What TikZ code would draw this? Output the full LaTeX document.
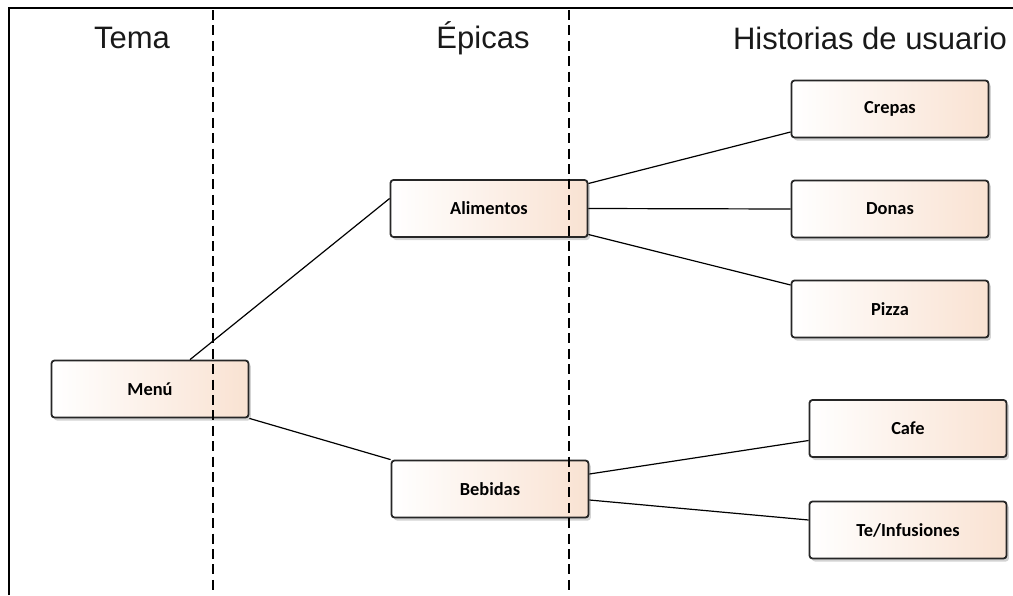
\documentclass[tikz,border=0pt]{standalone}
\usepackage{fontspec}
\setmainfont{Liberation Sans}
\newfontfamily\boxfont{Carlito}
\usetikzlibrary{shadows,calc}
\definecolor{peach}{HTML}{F9E2D2}
\begin{document}
\begin{tikzpicture}[x=0.5pt,y=-0.5pt,
  storybox/.style={draw=black!85, line width=0.9pt, rounded corners=1.5pt,
    left color=white, right color=peach,
    minimum width=98.5pt, minimum height=28.5pt, inner sep=0pt,
    font=\boxfont\bfseries\fontsize{9.2}{11}\selectfont,
    drop shadow={shadow xshift=1.2pt, shadow yshift=-1.5pt, opacity=0.35, fill=black!50}},
  link/.style={draw=black, line width=0.6pt},
  lane/.style={draw=black, line width=1.3pt, dash pattern=on 5pt off 2.7pt},
  header/.style={font=\fontsize{15.5}{18}\selectfont, text=black!90}]
\useasboundingbox (0,0) rectangle (1013,595);

% frame
\draw[line width=1.2pt] (9,595) -- (9,8) -- (1013,8);

% column headings
\node[header] (hTema) at (132,38) {Tema};
\node[header] (hEpicas) at (483,38) {Épicas};
\node[header] (hHist) at (870,38) {Historias de usuario};

% boxes
\node[storybox] (menu) at (150,389) {Menú};
\node[storybox] (ali) at (489,208.5) {Alimentos};
\node[storybox] (beb) at (490,489) {Bebidas};
\node[storybox] (crepas) at (890,109) {Crepas};
\node[storybox] (donas) at (890,209) {Donas};
\node[storybox] (pizza) at (890,309) {Pizza};
\node[storybox] (cafe) at (908,428.5) {Cafe};
\node[storybox] (te) at (908,530) {Te/Infusiones};

% connectors
\draw[link] ($(menu.north)+(40,0)$) -- ($(ali.west)+(0,-10)$);
\draw[link] (menu.south east) -- (beb.north west);
\draw[link] ($(ali.east)+(0,-25)$) -- ($(crepas.west)+(0,23)$);
\draw[link] (ali.east) -- (donas.west);
\draw[link] ($(ali.east)+(0,26)$) -- ($(pizza.west)+(0,-24)$);
\draw[link] ($(beb.east)+(0,-15)$) -- ($(cafe.west)+(0,12)$);
\draw[link] ($(beb.east)+(0,11)$) -- ($(te.west)+(0,-10)$);

% lane separators
\draw[lane] (213,10) -- (213,595);
\draw[lane] (569,10) -- (569,595);
\end{tikzpicture}
\end{document}
